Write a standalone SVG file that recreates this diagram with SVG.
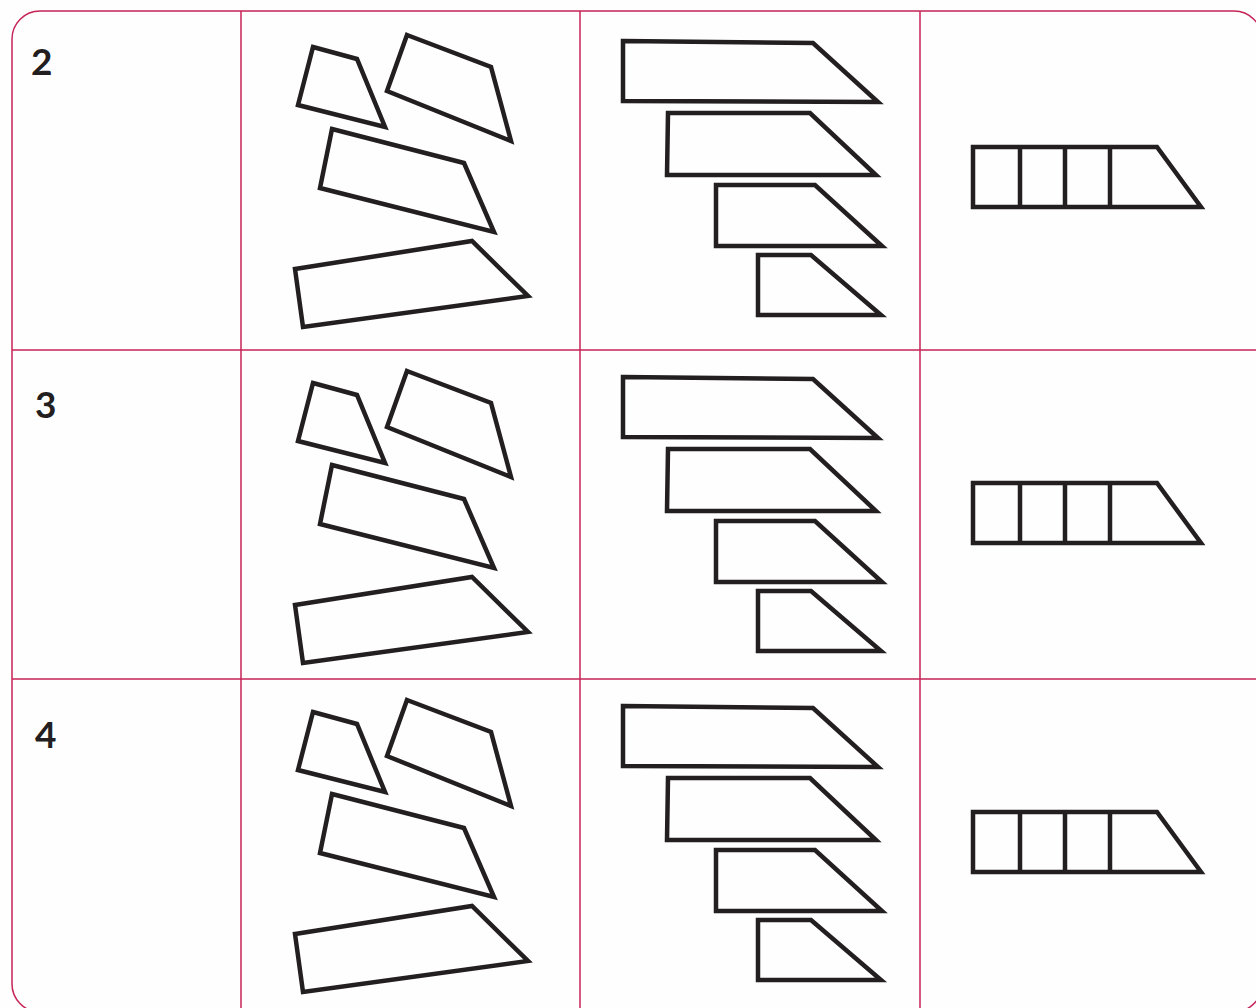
<svg xmlns="http://www.w3.org/2000/svg" width="1256" height="1008" viewBox="0 0 1256 1008">
<style>
.grid{fill:none;stroke:#c62357;stroke-width:1.5}
.s{fill:none;stroke:#231f20;stroke-width:4.5;stroke-linejoin:miter}
.num{font-family:Lato,"Open Sans",sans-serif;font-size:37px;font-weight:700;fill:#231f20}
</style>
<defs>
<g id="row">
<polygon class="s" points="313,47 357,59 385,127 298,105"/>
<polygon class="s" points="407,35 491,67 511,141 387,91"/>
<polygon class="s" points="332,129 464,163 494,232 320,188"/>
<polygon class="s" points="295,269 472,241 528,296 303,327"/>
<polygon class="s" points="623,41 813,43 878,102 623,101"/>
<polygon class="s" points="668,113 810,113 876,175 667,175"/>
<polygon class="s" points="716,185 815,185 882,246 716,246"/>
<polygon class="s" points="758,255 811,255 881,315 758,315"/>
<polygon class="s" points="973,147 1157,147 1201,207 973,207"/>
<line class="s" x1="1020" y1="147" x2="1020" y2="207"/>
<line class="s" x1="1065" y1="147" x2="1065" y2="207"/>
<line class="s" x1="1110" y1="147" x2="1110" y2="207"/>
</g>
</defs>
<rect width="1256" height="1008" fill="#fefefe"/>
<g id="grid">
<rect class="grid" x="12" y="11" width="1250" height="1001" rx="28"/>
<line class="grid" x1="12" y1="350" x2="1256" y2="350"/>
<line class="grid" x1="12" y1="679" x2="1256" y2="679"/>
<line class="grid" x1="241" y1="11" x2="241" y2="1008"/>
<line class="grid" x1="580" y1="11" x2="580" y2="1008"/>
<line class="grid" x1="920" y1="11" x2="920" y2="1008"/>
</g>
<g id="row2">
<text class="num" x="31" y="75">2</text>
<use href="#row"/>
</g>
<g id="row3">
<text class="num" x="35" y="418">3</text>
<use href="#row" transform="translate(0,336)"/>
</g>
<g id="row4">
<text class="num" x="35" y="748">4</text>
<use href="#row" transform="translate(0,665)"/>
</g>
</svg>
